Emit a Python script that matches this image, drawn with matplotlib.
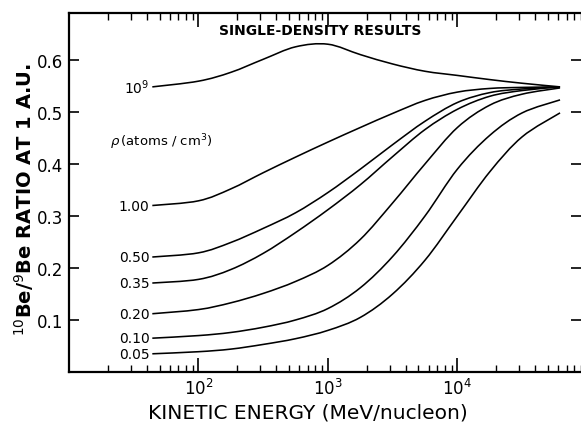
import matplotlib
matplotlib.use('Agg')
import numpy as np
import matplotlib.pyplot as plt
from matplotlib.path import Path
from matplotlib.patches import PathPatch
from matplotlib.ticker import FixedLocator, NullFormatter, LogFormatterMathtext

# kinetic energy grid (MeV/nucleon) the curves were read at
energy_mev = [44, 100, 178, 316, 562, 1000, 1780, 3160, 5620, 10000, 17800, 31600, 62000]

# 10Be/9Be ratio at 1 AU for each single ISM density
ratio_1e9 = [0.548, 0.559, 0.576, 0.601, 0.625, 0.630, 0.610, 0.592, 0.578, 0.570, 0.562, 0.555, 0.548]
ratio_1p00 = [0.320, 0.329, 0.352, 0.383, 0.413, 0.442, 0.470, 0.497, 0.522, 0.538, 0.545, 0.547, 0.548]
ratio_0p50 = [0.221, 0.229, 0.249, 0.276, 0.306, 0.345, 0.390, 0.437, 0.482, 0.518, 0.537, 0.544, 0.548]
ratio_0p35 = [0.171, 0.178, 0.197, 0.228, 0.268, 0.312, 0.360, 0.414, 0.466, 0.505, 0.530, 0.541, 0.548]
ratio_0p20 = [0.112, 0.120, 0.133, 0.151, 0.174, 0.205, 0.255, 0.325, 0.400, 0.470, 0.513, 0.534, 0.546]
ratio_0p10 = [0.065, 0.070, 0.076, 0.086, 0.100, 0.122, 0.162, 0.222, 0.300, 0.390, 0.455, 0.498, 0.523]
ratio_0p05 = [0.035, 0.039, 0.044, 0.053, 0.064, 0.080, 0.105, 0.150, 0.215, 0.300, 0.385, 0.452, 0.498]

curve_labels = ['$10^9$', '1.00', '0.50', '0.35', '0.20', '0.10', '0.05']
curves = [ratio_1e9, ratio_1p00, ratio_0p50, ratio_0p35, ratio_0p20, ratio_0p10, ratio_0p05]

y_ticks = [0.1, 0.2, 0.3, 0.4, 0.5, 0.6]
x_major = [1e2, 1e3, 1e4]


def smooth_path(xs, ys):
    # catmull-rom through the read points, done in log10(E) so it bends like the log axis
    lx = np.log10(xs)
    ys = np.asarray(ys, float)
    p = np.column_stack([lx, ys])
    p = np.vstack([p[0], p, p[-1]])
    verts = [p[1]]
    codes = [Path.MOVETO]
    for i in range(1, len(p) - 2):
        c1 = p[i] + (p[i+1] - p[i-1]) / 6.
        c2 = p[i+1] - (p[i+2] - p[i]) / 6.
        verts += [c1, c2, p[i+1]]
        codes += [Path.CURVE4] * 3
    verts = np.array(verts)
    verts[:, 0] = 10 ** verts[:, 0]
    return Path(verts, codes)


plt.rcParams['font.family'] = ['DejaVu Sans']

fig = plt.figure(figsize=(5.81, 4.27), dpi=100)
ax = fig.add_axes([69/581., 1-373/427., 1-69/581., (373-14)/427.])

for lab, vals in zip(curve_labels, curves):
    ax.add_patch(PathPatch(smooth_path(energy_mev, vals), fill=False, edgecolor='black', lw=1.15))
    ax.annotate(lab, xy=(energy_mev[0], vals[0]), xytext=(-2, 0), textcoords='offset points',
                ha='right', va='center', fontsize=10)

ax.set_xscale('log')
ax.set_xlim(10, 9.0e4)
ax.set_ylim(0, 0.69)

ax.xaxis.set_major_locator(FixedLocator(x_major))
ax.xaxis.set_major_formatter(LogFormatterMathtext())
minors = [m*10**d for d in range(1, 5) for m in range(2, 10)]
ax.xaxis.set_minor_locator(FixedLocator(minors))
ax.xaxis.set_minor_formatter(NullFormatter())
ax.set_yticks(y_ticks)
ax.set_yticklabels(['%.1f' % v for v in y_ticks])

ax.tick_params(which='major', direction='in', length=10, width=1.2, top=True, right=True,
               labelsize=12, pad=4)
ax.tick_params(which='minor', direction='in', length=5, width=1.0, top=True)
ax.tick_params(axis='y', which='major', length=7)

for s in ['left', 'bottom', 'top']:
    ax.spines[s].set_linewidth(1.6)
ax.spines['right'].set_visible(False)

fig.text(320/581., 1-31/427., 'SINGLE-DENSITY RESULTS', fontsize=10, fontweight='bold',
         ha='center', va='center')
fig.text(110/581., 1-142/427., r'$\rho\,$(atoms / cm$^3$)', fontsize=9.5,
         ha='left', va='center')

fig.text(308/581., 1-413/427., 'KINETIC ENERGY (MeV/nucleon)', fontsize=14.5,
         ha='center', va='center')
fig.text(24/581., 1-200/427., r'$^{10}$Be/$^{9}$Be RATIO AT 1 A.U.', fontsize=14,
         fontweight='bold', rotation=90, ha='center', va='center')

fig.savefig('out.png', dpi=100)
